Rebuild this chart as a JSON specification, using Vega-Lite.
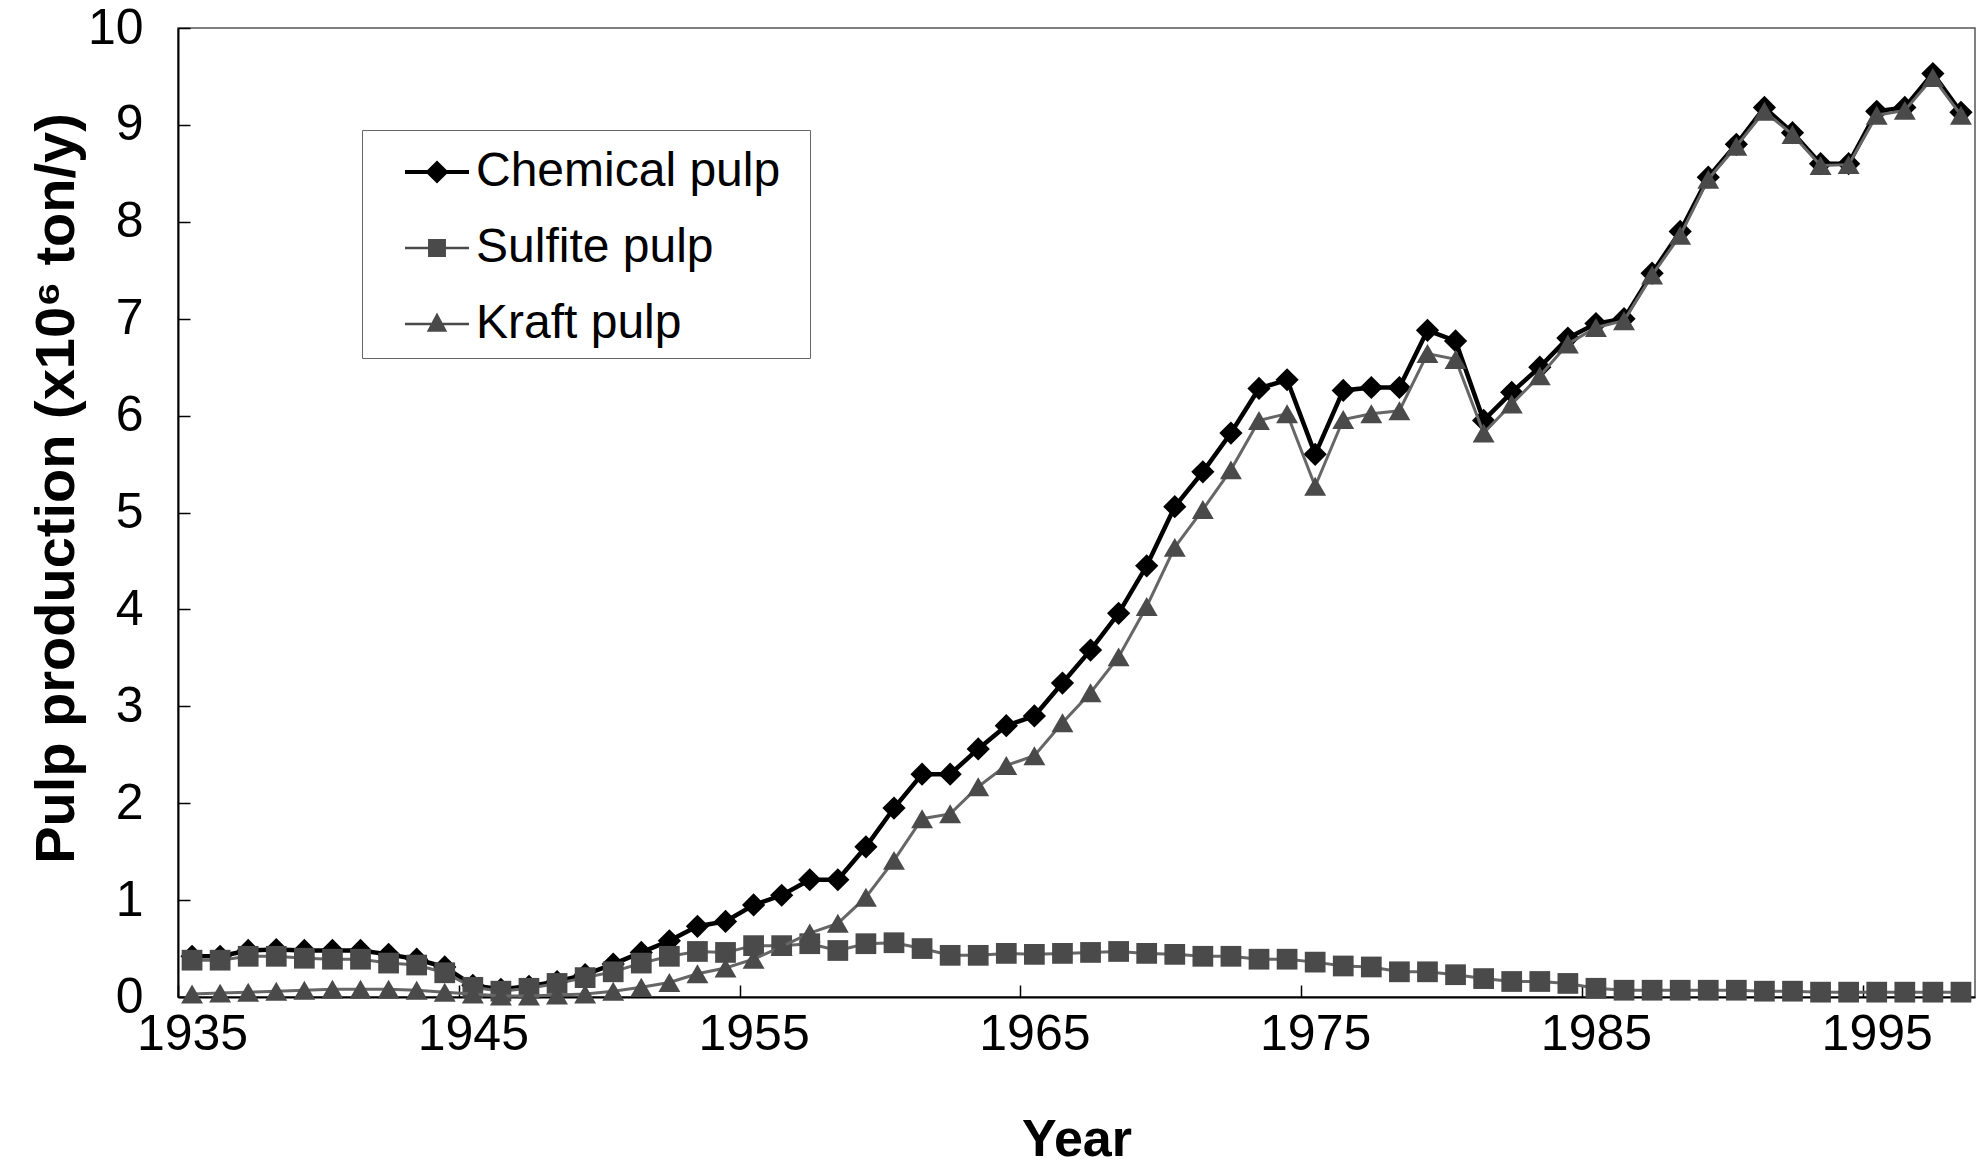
{
"$schema":"https://vega.github.io/schema/vega-lite/v6.json",
"width":1797,"height":969,
"autosize":{"type":"none"},
"padding":{"left":178,"top":28,"right":3,"bottom":174},
"background":"white",
"config":{
 "font":"Liberation Sans",
 "view":{"stroke":"#555","strokeWidth":1.5},
 "axis":{"grid":false,"domainColor":"black","domainWidth":2,"tickColor":"black","tickWidth":1.5,"labelFont":"Liberation Sans","labelFontSize":50,"labelColor":"black","titleFont":"Liberation Sans","titleFontSize":52,"titleFontWeight":"bold","titleColor":"black","labelFlush":false}
},
"data":{"values":[
{"year":1935,"series":"Chemical pulp","value":0.42},{"year":1936,"series":"Chemical pulp","value":0.42},{"year":1937,"series":"Chemical pulp","value":0.48},{"year":1938,"series":"Chemical pulp","value":0.49},{"year":1939,"series":"Chemical pulp","value":0.48},{"year":1940,"series":"Chemical pulp","value":0.48},{"year":1941,"series":"Chemical pulp","value":0.48},{"year":1942,"series":"Chemical pulp","value":0.44},{"year":1943,"series":"Chemical pulp","value":0.39},{"year":1944,"series":"Chemical pulp","value":0.31},
{"year":1945,"series":"Chemical pulp","value":0.12},{"year":1946,"series":"Chemical pulp","value":0.08},{"year":1947,"series":"Chemical pulp","value":0.11},{"year":1948,"series":"Chemical pulp","value":0.16},{"year":1949,"series":"Chemical pulp","value":0.23},{"year":1950,"series":"Chemical pulp","value":0.34},{"year":1951,"series":"Chemical pulp","value":0.46},{"year":1952,"series":"Chemical pulp","value":0.58},{"year":1953,"series":"Chemical pulp","value":0.73},{"year":1954,"series":"Chemical pulp","value":0.78},
{"year":1955,"series":"Chemical pulp","value":0.95},{"year":1956,"series":"Chemical pulp","value":1.05},{"year":1957,"series":"Chemical pulp","value":1.21},{"year":1958,"series":"Chemical pulp","value":1.21},{"year":1959,"series":"Chemical pulp","value":1.55},{"year":1960,"series":"Chemical pulp","value":1.95},{"year":1961,"series":"Chemical pulp","value":2.30},{"year":1962,"series":"Chemical pulp","value":2.30},{"year":1963,"series":"Chemical pulp","value":2.56},{"year":1964,"series":"Chemical pulp","value":2.80},
{"year":1965,"series":"Chemical pulp","value":2.90},{"year":1966,"series":"Chemical pulp","value":3.24},{"year":1967,"series":"Chemical pulp","value":3.58},{"year":1968,"series":"Chemical pulp","value":3.96},{"year":1969,"series":"Chemical pulp","value":4.45},{"year":1970,"series":"Chemical pulp","value":5.06},{"year":1971,"series":"Chemical pulp","value":5.42},{"year":1972,"series":"Chemical pulp","value":5.82},{"year":1973,"series":"Chemical pulp","value":6.28},{"year":1974,"series":"Chemical pulp","value":6.37},
{"year":1975,"series":"Chemical pulp","value":5.60},{"year":1976,"series":"Chemical pulp","value":6.26},{"year":1977,"series":"Chemical pulp","value":6.29},{"year":1978,"series":"Chemical pulp","value":6.29},{"year":1979,"series":"Chemical pulp","value":6.88},{"year":1980,"series":"Chemical pulp","value":6.77},{"year":1981,"series":"Chemical pulp","value":5.95},{"year":1982,"series":"Chemical pulp","value":6.24},{"year":1983,"series":"Chemical pulp","value":6.50},{"year":1984,"series":"Chemical pulp","value":6.80},
{"year":1985,"series":"Chemical pulp","value":6.95},{"year":1986,"series":"Chemical pulp","value":7.00},{"year":1987,"series":"Chemical pulp","value":7.47},{"year":1988,"series":"Chemical pulp","value":7.90},{"year":1989,"series":"Chemical pulp","value":8.46},{"year":1990,"series":"Chemical pulp","value":8.80},{"year":1991,"series":"Chemical pulp","value":9.18},{"year":1992,"series":"Chemical pulp","value":8.92},{"year":1993,"series":"Chemical pulp","value":8.60},{"year":1994,"series":"Chemical pulp","value":8.60},
{"year":1995,"series":"Chemical pulp","value":9.14},{"year":1996,"series":"Chemical pulp","value":9.18},{"year":1997,"series":"Chemical pulp","value":9.53},{"year":1998,"series":"Chemical pulp","value":9.13},
{"year":1935,"series":"Sulfite pulp","value":0.38},{"year":1936,"series":"Sulfite pulp","value":0.38},{"year":1937,"series":"Sulfite pulp","value":0.42},{"year":1938,"series":"Sulfite pulp","value":0.42},{"year":1939,"series":"Sulfite pulp","value":0.40},{"year":1940,"series":"Sulfite pulp","value":0.39},{"year":1941,"series":"Sulfite pulp","value":0.39},{"year":1942,"series":"Sulfite pulp","value":0.35},{"year":1943,"series":"Sulfite pulp","value":0.33},{"year":1944,"series":"Sulfite pulp","value":0.25},
{"year":1945,"series":"Sulfite pulp","value":0.10},{"year":1946,"series":"Sulfite pulp","value":0.06},{"year":1947,"series":"Sulfite pulp","value":0.09},{"year":1948,"series":"Sulfite pulp","value":0.14},{"year":1949,"series":"Sulfite pulp","value":0.20},{"year":1950,"series":"Sulfite pulp","value":0.26},{"year":1951,"series":"Sulfite pulp","value":0.35},{"year":1952,"series":"Sulfite pulp","value":0.42},{"year":1953,"series":"Sulfite pulp","value":0.47},{"year":1954,"series":"Sulfite pulp","value":0.46},
{"year":1955,"series":"Sulfite pulp","value":0.53},{"year":1956,"series":"Sulfite pulp","value":0.53},{"year":1957,"series":"Sulfite pulp","value":0.55},{"year":1958,"series":"Sulfite pulp","value":0.48},{"year":1959,"series":"Sulfite pulp","value":0.55},{"year":1960,"series":"Sulfite pulp","value":0.56},{"year":1961,"series":"Sulfite pulp","value":0.50},{"year":1962,"series":"Sulfite pulp","value":0.43},{"year":1963,"series":"Sulfite pulp","value":0.43},{"year":1964,"series":"Sulfite pulp","value":0.45},
{"year":1965,"series":"Sulfite pulp","value":0.44},{"year":1966,"series":"Sulfite pulp","value":0.45},{"year":1967,"series":"Sulfite pulp","value":0.46},{"year":1968,"series":"Sulfite pulp","value":0.47},{"year":1969,"series":"Sulfite pulp","value":0.45},{"year":1970,"series":"Sulfite pulp","value":0.44},{"year":1971,"series":"Sulfite pulp","value":0.42},{"year":1972,"series":"Sulfite pulp","value":0.42},{"year":1973,"series":"Sulfite pulp","value":0.39},{"year":1974,"series":"Sulfite pulp","value":0.39},
{"year":1975,"series":"Sulfite pulp","value":0.36},{"year":1976,"series":"Sulfite pulp","value":0.32},{"year":1977,"series":"Sulfite pulp","value":0.31},{"year":1978,"series":"Sulfite pulp","value":0.26},{"year":1979,"series":"Sulfite pulp","value":0.26},{"year":1980,"series":"Sulfite pulp","value":0.23},{"year":1981,"series":"Sulfite pulp","value":0.19},{"year":1982,"series":"Sulfite pulp","value":0.16},{"year":1983,"series":"Sulfite pulp","value":0.16},{"year":1984,"series":"Sulfite pulp","value":0.14},
{"year":1985,"series":"Sulfite pulp","value":0.09},{"year":1986,"series":"Sulfite pulp","value":0.07},{"year":1987,"series":"Sulfite pulp","value":0.07},{"year":1988,"series":"Sulfite pulp","value":0.07},{"year":1989,"series":"Sulfite pulp","value":0.07},{"year":1990,"series":"Sulfite pulp","value":0.07},{"year":1991,"series":"Sulfite pulp","value":0.06},{"year":1992,"series":"Sulfite pulp","value":0.06},{"year":1993,"series":"Sulfite pulp","value":0.05},{"year":1994,"series":"Sulfite pulp","value":0.05},
{"year":1995,"series":"Sulfite pulp","value":0.05},{"year":1996,"series":"Sulfite pulp","value":0.05},{"year":1997,"series":"Sulfite pulp","value":0.05},{"year":1998,"series":"Sulfite pulp","value":0.05},
{"year":1935,"series":"Kraft pulp","value":0.03},{"year":1936,"series":"Kraft pulp","value":0.04},{"year":1937,"series":"Kraft pulp","value":0.05},{"year":1938,"series":"Kraft pulp","value":0.06},{"year":1939,"series":"Kraft pulp","value":0.07},{"year":1940,"series":"Kraft pulp","value":0.08},{"year":1941,"series":"Kraft pulp","value":0.08},{"year":1942,"series":"Kraft pulp","value":0.08},{"year":1943,"series":"Kraft pulp","value":0.07},{"year":1944,"series":"Kraft pulp","value":0.05},
{"year":1945,"series":"Kraft pulp","value":0.03},{"year":1946,"series":"Kraft pulp","value":0.01},{"year":1947,"series":"Kraft pulp","value":0.01},{"year":1948,"series":"Kraft pulp","value":0.02},{"year":1949,"series":"Kraft pulp","value":0.03},{"year":1950,"series":"Kraft pulp","value":0.06},{"year":1951,"series":"Kraft pulp","value":0.10},{"year":1952,"series":"Kraft pulp","value":0.15},{"year":1953,"series":"Kraft pulp","value":0.24},{"year":1954,"series":"Kraft pulp","value":0.30},
{"year":1955,"series":"Kraft pulp","value":0.39},{"year":1956,"series":"Kraft pulp","value":0.52},{"year":1957,"series":"Kraft pulp","value":0.66},{"year":1958,"series":"Kraft pulp","value":0.76},{"year":1959,"series":"Kraft pulp","value":1.03},{"year":1960,"series":"Kraft pulp","value":1.41},{"year":1961,"series":"Kraft pulp","value":1.84},{"year":1962,"series":"Kraft pulp","value":1.89},{"year":1963,"series":"Kraft pulp","value":2.17},{"year":1964,"series":"Kraft pulp","value":2.39},
{"year":1965,"series":"Kraft pulp","value":2.49},{"year":1966,"series":"Kraft pulp","value":2.83},{"year":1967,"series":"Kraft pulp","value":3.14},{"year":1968,"series":"Kraft pulp","value":3.51},{"year":1969,"series":"Kraft pulp","value":4.03},{"year":1970,"series":"Kraft pulp","value":4.64},{"year":1971,"series":"Kraft pulp","value":5.03},{"year":1972,"series":"Kraft pulp","value":5.44},{"year":1973,"series":"Kraft pulp","value":5.95},{"year":1974,"series":"Kraft pulp","value":6.02},
{"year":1975,"series":"Kraft pulp","value":5.27},{"year":1976,"series":"Kraft pulp","value":5.96},{"year":1977,"series":"Kraft pulp","value":6.02},{"year":1978,"series":"Kraft pulp","value":6.05},{"year":1979,"series":"Kraft pulp","value":6.64},{"year":1980,"series":"Kraft pulp","value":6.58},{"year":1981,"series":"Kraft pulp","value":5.82},{"year":1982,"series":"Kraft pulp","value":6.12},{"year":1983,"series":"Kraft pulp","value":6.41},{"year":1984,"series":"Kraft pulp","value":6.74},
{"year":1985,"series":"Kraft pulp","value":6.91},{"year":1986,"series":"Kraft pulp","value":6.98},{"year":1987,"series":"Kraft pulp","value":7.45},{"year":1988,"series":"Kraft pulp","value":7.86},{"year":1989,"series":"Kraft pulp","value":8.44},{"year":1990,"series":"Kraft pulp","value":8.78},{"year":1991,"series":"Kraft pulp","value":9.14},{"year":1992,"series":"Kraft pulp","value":8.90},{"year":1993,"series":"Kraft pulp","value":8.58},{"year":1994,"series":"Kraft pulp","value":8.59},
{"year":1995,"series":"Kraft pulp","value":9.10},{"year":1996,"series":"Kraft pulp","value":9.15},{"year":1997,"series":"Kraft pulp","value":9.49},{"year":1998,"series":"Kraft pulp","value":9.10}
]},
"encoding":{
 "x":{"field":"year","type":"quantitative","scale":{"domain":[1934.5,1998.5],"nice":false,"zero":false},
  "axis":{"values":[1935,1945,1955,1965,1975,1985,1995],"format":"d","title":"Year","tickSize":-12,"tickOffset":-14,"labelOffset":14,"labelPadding":24,"titlePadding":55}},
 "y":{"field":"value","type":"quantitative","scale":{"domain":[0,10],"nice":false},
  "axis":{"values":[0,1,2,3,4,5,6,7,8,9,10],"title":"Pulp production (x10⁶ ton/y)","titleFontSize":56,"titleY":460,"tickSize":-12,"labelPadding":47,"titlePadding":2}}
},
"layer":[
 {"transform":[{"filter":"datum.series === 'Chemical pulp'"}],"mark":{"type":"line","color":"black","strokeWidth":4.5}},
 {"transform":[{"filter":"datum.series === 'Chemical pulp'"}],"mark":{"type":"point","shape":"diamond","filled":true,"color":"black","size":540,"opacity":1}},
 {"transform":[{"filter":"datum.series === 'Sulfite pulp'"}],"mark":{"type":"line","color":"#666","strokeWidth":3}},
 {"transform":[{"filter":"datum.series === 'Sulfite pulp'"}],"mark":{"type":"point","shape":"square","filled":true,"color":"#4a4a4a","size":430,"opacity":1}},
 {"transform":[{"filter":"datum.series === 'Kraft pulp'"}],"mark":{"type":"line","color":"#666","strokeWidth":3}},
 {"transform":[{"filter":"datum.series === 'Kraft pulp'"}],"mark":{"type":"point","shape":"triangle-up","filled":true,"color":"#4a4a4a","size":480,"opacity":1}},
 {"mark":{"type":"point","filled":true,"opacity":0,"size":4096},
  "encoding":{
   "shape":{"field":"series","type":"nominal",
    "scale":{"domain":["Chemical pulp","Sulfite pulp","Kraft pulp"],
     "range":["M-1,-0.06H-0.3L0,-0.36L0.3,-0.06H1V0.06H0.3L0,0.36L-0.3,0.06H-1Z",
              "M-1,-0.04H-0.28V-0.28H0.28V-0.04H1V0.04H0.28V0.28H-0.28V0.04H-1Z",
              "M-1,-0.04H-0.171L0,-0.36L0.171,-0.04H1V0.04H0.213L0.32,0.24H-0.32L-0.213,0.04H-1Z"]},
    "legend":{"title":"\u00a0","titleOrient":"right","titleFontSize":20,"titlePadding":20,"orient":"none","legendX":184,"legendY":102,"padding":10,"strokeColor":"#666","fillColor":"white","symbolSize":4096,"symbolOffset":33,"labelOffset":7,"labelFont":"Liberation Sans","labelFontSize":48,"labelColor":"black","labelLimit":700,"symbolStrokeWidth":0,"symbolOpacity":1,"rowPadding":20}},
   "color":{"field":"series","type":"nominal",
    "scale":{"domain":["Chemical pulp","Sulfite pulp","Kraft pulp"],"range":["black","#4a4a4a","#4a4a4a"]},
    "legend":{"title":"\u00a0","titleOrient":"right","titleFontSize":20,"titlePadding":20,"orient":"none","legendX":184,"legendY":102,"padding":10,"strokeColor":"#666","fillColor":"white","symbolSize":4096,"symbolOffset":33,"labelOffset":7,"labelFont":"Liberation Sans","labelFontSize":48,"labelColor":"black","labelLimit":700,"symbolStrokeWidth":0,"symbolOpacity":1,"rowPadding":20}}
  }}
]
}
